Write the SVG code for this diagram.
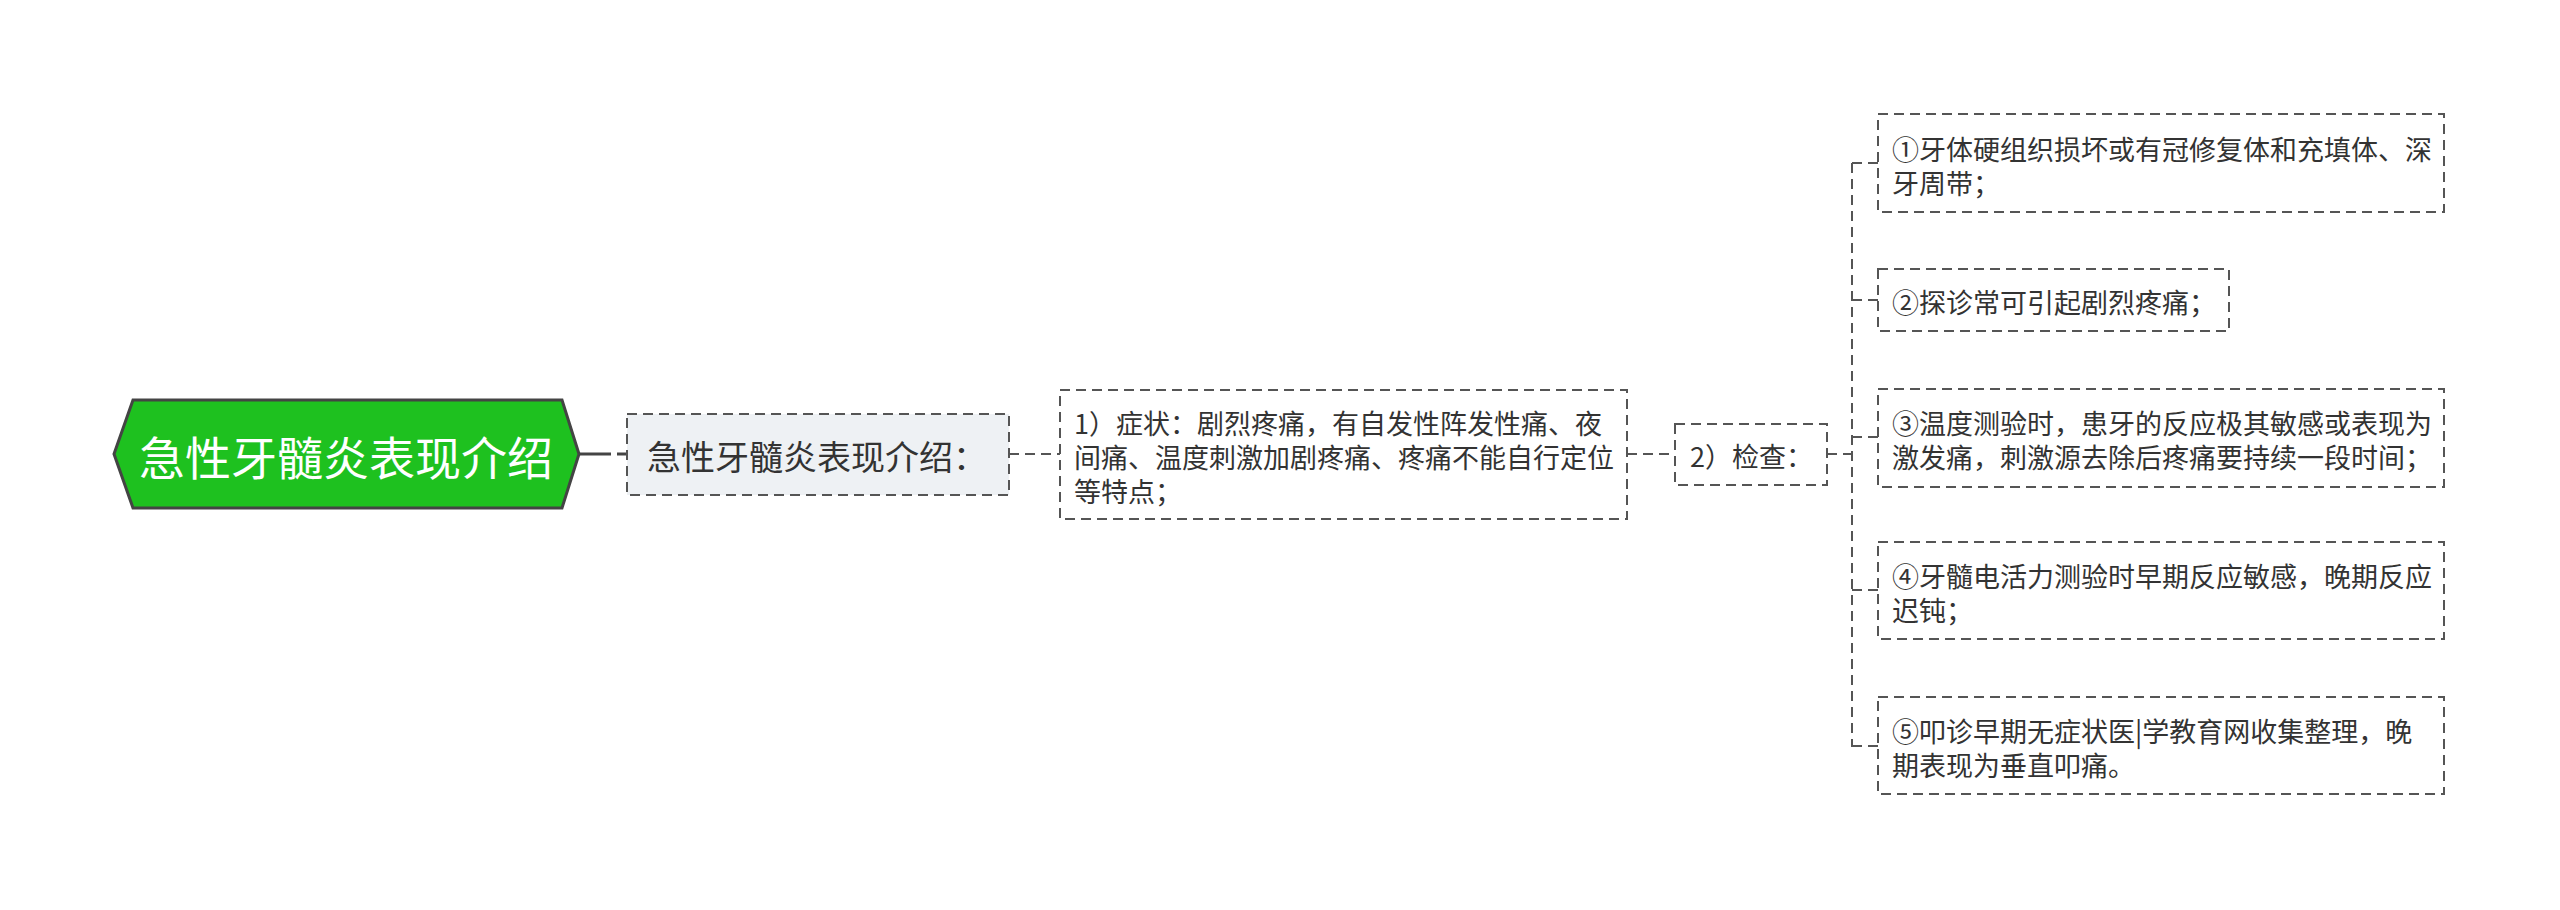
<svg xmlns="http://www.w3.org/2000/svg" width="2560" height="910" viewBox="0 0 2560 910">
<style>
text{font-family:"Noto Sans CJK SC","Noto Sans",sans-serif;fill:#333;dominant-baseline:central}
.box{fill:#fff;stroke:#555;stroke-width:2;stroke-dasharray:10 6}
.t{font-size:27px}
.conn{fill:none;stroke:#555;stroke-width:2;stroke-dasharray:10 6}
</style>
<rect width="2560" height="910" fill="#fff"/>
<g id="connectors">
<line x1="579" y1="454" x2="627" y2="454" stroke="#444" stroke-width="3" stroke-dasharray="32 6 10"/>
<path class="conn" d="M1009 454H1060"/>
<path class="conn" d="M1627 454H1675"/>
<path class="conn" d="M1827 454H1852"/>
<path class="conn" d="M1852 163V747"/>
<path class="conn" d="M1852 163H1878"/>
<path class="conn" d="M1852 300H1878"/>
<path class="conn" d="M1852 437H1878"/>
<path class="conn" d="M1852 590H1878"/>
<path class="conn" d="M1852 746H1878"/>
</g>
<g id="root">
<polygon points="114,454 133,400 562,400 579,454 562,508 133,508" fill="#1ec11f" stroke="#444" stroke-width="3"/>
<text x="346" y="455" text-anchor="middle" style="font-size:46px;fill:#fff">急性牙髓炎表现介绍</text>
</g>
<g id="n1">
<rect class="box" x="627" y="414" width="382" height="81" style="fill:#eef1f4"/>
<text x="647" y="455" style="font-size:34px">急性牙髓炎表现介绍：</text>
</g>
<g id="n2">
<rect class="box" x="1060" y="390" width="567" height="129"/>
<text class="t" x="1074" y="422">1）症状：剧烈疼痛，有自发性阵发性痛、夜</text>
<text class="t" x="1074" y="456">间痛、温度刺激加剧疼痛、疼痛不能自行定位</text>
<text class="t" x="1074" y="490">等特点；</text>
</g>
<g id="n3">
<rect class="box" x="1675" y="424" width="152" height="61"/>
<text class="t" x="1690" y="455">2）检查：</text>
</g>
<g id="leaf1">
<rect class="box" x="1878" y="114" width="566" height="98"/>
<text class="t" x="1892" y="148">①牙体硬组织损坏或有冠修复体和充填体、深</text>
<text class="t" x="1892" y="182">牙周带；</text>
</g>
<g id="leaf2">
<rect class="box" x="1878" y="269" width="351" height="62"/>
<text class="t" x="1892" y="301">②探诊常可引起剧烈疼痛；</text>
</g>
<g id="leaf3">
<rect class="box" x="1878" y="389" width="566" height="98"/>
<text class="t" x="1892" y="422">③温度测验时，患牙的反应极其敏感或表现为</text>
<text class="t" x="1892" y="456">激发痛，刺激源去除后疼痛要持续一段时间；</text>
</g>
<g id="leaf4">
<rect class="box" x="1878" y="542" width="566" height="97"/>
<text class="t" x="1892" y="575">④牙髓电活力测验时早期反应敏感，晚期反应</text>
<text class="t" x="1892" y="609">迟钝；</text>
</g>
<g id="leaf5">
<rect class="box" x="1878" y="697" width="566" height="97"/>
<text class="t" x="1892" y="730">⑤叩诊早期无症状医|学教育网收集整理，晚</text>
<text class="t" x="1892" y="764">期表现为垂直叩痛。</text>
</g>
</svg>
